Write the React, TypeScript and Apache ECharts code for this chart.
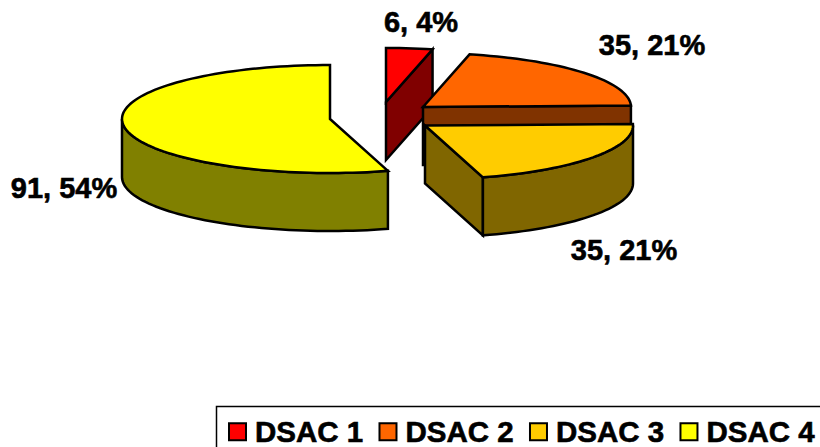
import React, { useEffect, useRef } from "react";
import * as echarts from "echarts";

const categories = ["DSAC 1", "DSAC 2", "DSAC 3", "DSAC 4"];
const values = [6, 35, 35, 91];
const topColors = ["#FF0000", "#FF6600", "#FFCC00", "#FFFF00"];
const sideColors = ["#800000", "#803300", "#806600", "#808000"];

// Layout of the exploded, tilted pie
const apexes = [[386, 102], [423, 107], [425, 125.5], [330, 119]];
const labelCentres = [[421, 21.5], [652, 45], [624, 250], [64, 188]];
const RX = 208;
const RY = 54;
const DEPTH = 58;
const FONT = "'Liberation Sans', Arial, sans-serif";

const total = values.reduce((a, b) => a + b, 0);
const lineStyle = { stroke: "#000", lineWidth: 2.5, lineJoin: "miter" as const };

function arcPoints(cx: number, cy: number, from: number, to: number) {
  const pts: number[][] = [];
  const steps = Math.max(2, Math.ceil((to - from) / 2));
  for (let i = 0; i <= steps; i++) {
    const a = ((from + ((to - from) * i) / steps) * Math.PI) / 180;
    pts.push([cx + RX * Math.sin(a), cy - RY * Math.cos(a)]);
  }
  return pts;
}

function poly(points: number[][], fill: string) {
  return { type: "polygon", shape: { points }, style: { ...lineStyle, fill } };
}

function sliceRenderer(index: number) {
  return (_params: unknown, api: any) => {
    const value = api.value(0) as number;
    const before = values.slice(0, index).reduce((a, b) => a + b, 0);
    const start = (before / total) * 360;
    const end = ((before + value) / total) * 360;
    const [cx, cy] = apexes[index];
    const side = sideColors[index];
    const children: any[] = [];

    const edge = (deg: number) => {
      const p = arcPoints(cx, cy, deg, deg)[0];
      children.push(
        poly([[cx, cy], p, [p[0], p[1] + DEPTH], [cx, cy + DEPTH]], side)
      );
    };
    if (end < 180) edge(end);
    if (start > 180) edge(start);

    const from = Math.max(start, 90);
    const to = Math.min(end, 270);
    if (to > from) {
      const arc = arcPoints(cx, cy, from, to);
      const lower = arc.map((p) => [p[0], p[1] + DEPTH]).reverse();
      children.push(poly([...arc, ...lower], side));
    }

    children.push(poly([[cx, cy], ...arcPoints(cx, cy, start, end)], topColors[index]));

    const [lx, ly] = labelCentres[index];
    children.push({
      type: "text",
      x: lx,
      y: ly,
      style: {
        text: `${value}, ${Math.round((value / total) * 100)}%`,
        font: `bold 29px ${FONT}`,
        fill: "#000",
        stroke: "#000",
        lineWidth: 0.6,
        align: "center",
        verticalAlign: "middle",
      },
    });
    return { type: "group", children };
  };
}

export default function App() {
  const ref = useRef<HTMLDivElement>(null);
  useEffect(() => {
    const chart = echarts.init(ref.current!, undefined, { renderer: "svg" });
    chart.setOption({
      animation: false,
      backgroundColor: "#fff",
      legend: {
        left: 219,
        top: 411.5,
        width: 640,
        padding: [5, 0, 5, 9],
        orient: "horizontal",
        itemWidth: 17,
        itemHeight: 17,
        itemGap: 15,
        icon: "rect",
        data: categories,
        itemStyle: { borderColor: "#000", borderWidth: 2 },
        textStyle: {
          fontFamily: FONT,
          fontWeight: "bold",
          fontSize: 29.5,
          color: "#000",
          textBorderColor: "#000",
          textBorderWidth: 0.6,
          padding: [0, 0, 0, 4],
        },
      },
      graphic: [
        {
          type: "rect",
          silent: true,
          shape: { x: 216.5, y: 406.5, width: 640, height: 80 },
          style: { fill: "transparent", stroke: "#000", lineWidth: 1.5 },
        },
      ],
      series: categories.map((name, i) => ({
        type: "custom",
        name,
        coordinateSystem: "none",
        z: 2,
        itemStyle: { color: topColors[i], borderColor: "#000", borderWidth: 2 },
        renderItem: sliceRenderer(i),
        data: [[values[i]]],
      })),
    });
    return () => chart.dispose();
  }, []);
  return (
    <div
      ref={ref}
      style={{ position: "absolute", left: 0, top: 0, width: 820, height: 447 }}
    />
  );
}
